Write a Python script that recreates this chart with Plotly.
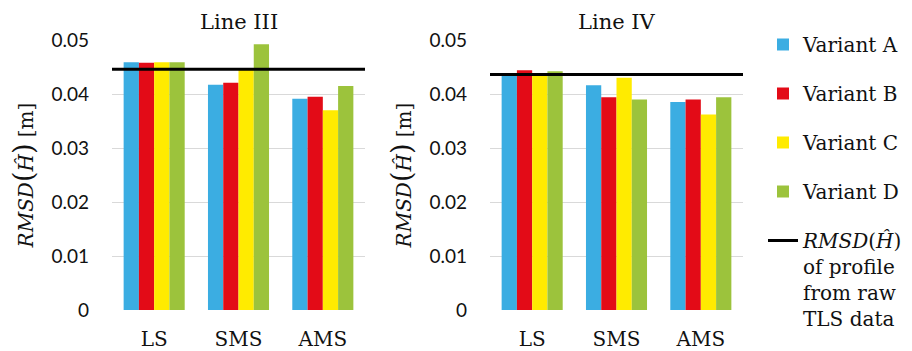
import plotly.graph_objects as go
from plotly.subplots import make_subplots

categories = ["LS", "SMS", "AMS"]
variants = ["Variant A", "Variant B", "Variant C", "Variant D"]
colors = ["#3BADE2", "#E30B17", "#FFEB00", "#9CC33C"]

# RMSD values [m] per variant, for each method (LS, SMS, AMS)
line3_values = {
    "Variant A": [0.0459, 0.0417, 0.0391],
    "Variant B": [0.0458, 0.0421, 0.0395],
    "Variant C": [0.0459, 0.0446, 0.0370],
    "Variant D": [0.0459, 0.0492, 0.0415],
}
line4_values = {
    "Variant A": [0.0437, 0.0416, 0.0385],
    "Variant B": [0.0444, 0.0394, 0.0390],
    "Variant C": [0.0437, 0.0430, 0.0362],
    "Variant D": [0.0442, 0.0390, 0.0394],
}
# RMSD of the profile from raw TLS data
raw_tls_rmsd = [0.0446, 0.0436]
panel_titles = ["Line III", "Line IV"]
y_tickvals = [0, 0.01, 0.02, 0.03, 0.04, 0.05]
y_ticktext = ["0", "0.01", "0.02", "0.03", "0.04", "0.05"]

serif = "'DejaVu Serif', serif"
sans = "Lato, sans-serif"

fig = make_subplots(rows=1, cols=2)

for col, values in enumerate([line3_values, line4_values], start=1):
    for name, color in zip(variants, colors):
        fig.add_trace(
            go.Bar(
                x=categories,
                y=values[name],
                name=name,
                marker=dict(color=color, line=dict(width=0)),
                showlegend=(col == 1),
                legendgroup=name,
            ),
            row=1, col=col,
        )

ytitle = ("<i>RMSD</i><span style='font-size:27px'>(</span><i>Ĥ</i>"
          "<span style='font-size:27px'>)</span> [m]")

for i, (axx, axy) in enumerate([("x", "y"), ("x2", "y2")]):
    fig.add_shape(
        type="line",
        xref=f"{axx} domain", yref=axy,
        x0=0, x1=1, y0=raw_tls_rmsd[i], y1=raw_tls_rmsd[i],
        line=dict(color="black", width=3),
        showlegend=(i == 0),
        name="<i>RMSD</i>(<i>Ĥ</i>)<br>of profile<br>from raw<br>TLS data",
        legendgroup="raw",
    )
    fig.add_annotation(
        text=panel_titles[i], xref=f"{axx} domain", yref="paper",
        x=0.5, y=1 - 22 / 351, showarrow=False,
        font=dict(family=serif, size=21, color="#111"),
        xanchor="center", yanchor="middle",
    )

x_domains = [[112 / 912, 365 / 912], [490 / 912, 743 / 912]]
y_domain = [1 - 310 / 351, 1 - 40 / 351]

for col in (1, 2):
    fig.update_xaxes(
        domain=x_domains[col - 1], showgrid=False, showline=False,
        ticks="", ticklabelstandoff=15, automargin=False,
        tickfont=dict(family=serif, size=20, color="#111"),
        row=1, col=col,
    )
    fig.update_yaxes(
        domain=y_domain, range=[0, 0.05], automargin=False,
        tickvals=y_tickvals, ticktext=y_ticktext,
        showgrid=True, gridcolor="#d9d9d9", gridwidth=1,
        zeroline=False, showline=False, ticks="", ticklabelstandoff=22,
        tickfont=dict(family=sans, size=19, color="#111"),
        title=dict(text=ytitle, standoff=12,
                   font=dict(family=serif, size=20, color="#111")),
        row=1, col=col,
    )

fig.update_layout(
    width=912, height=351,
    margin=dict(l=0, r=0, t=0, b=0, autoexpand=False),
    plot_bgcolor="white", paper_bgcolor="white",
    font=dict(family=serif, size=20, color="#111"),
    barmode="group", bargap=0.276, bargroupgap=0,
    legend=dict(
        x=763 / 912, xanchor="left", y=1 - 25 / 351, yanchor="top",
        font=dict(family=serif, size=20, color="#111"),
        tracegroupgap=20, valign="top", bgcolor="rgba(0,0,0,0)",
    ),
)

fig.write_html("out.html")
